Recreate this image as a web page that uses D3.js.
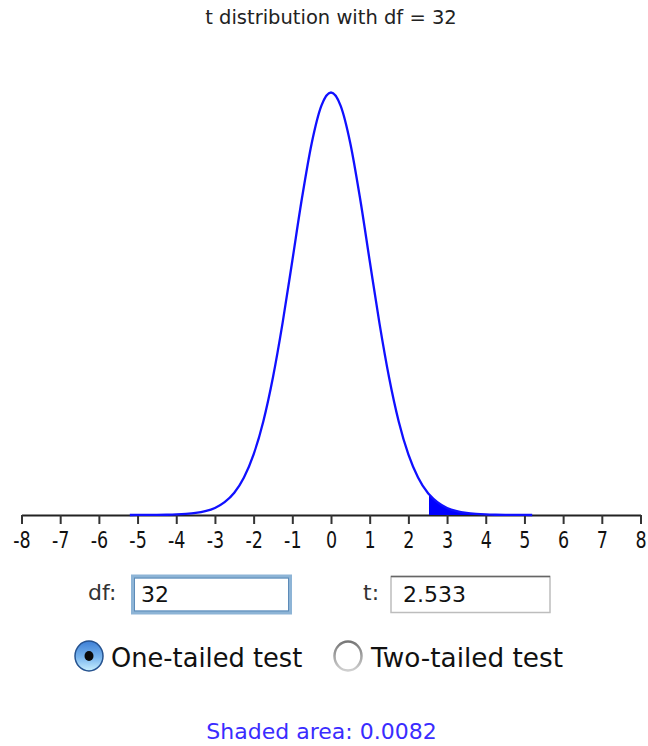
<!DOCTYPE html>
<html>
<head>
<meta charset="utf-8">
<script src="https://cdn.jsdelivr.net/npm/d3@7"></script>
<style>
  html, body { margin: 0; padding: 0; background: #fff; }
  svg { display: block; }
  text { font-family: "DejaVu Sans", "Lucida Grande", sans-serif; }
</style>
</head>
<body>
<svg id="chart" width="648" height="746"></svg>
<script>
// ---- data ----
const title = "t distribution with df = 32";
const dfValue = "32";
const tValue = "2.533";
const criticalT = 2.533;
const shadedArea = "0.0082";
const tickValues = [-8, -7, -6, -5, -4, -3, -2, -1, 0, 1, 2, 3, 4, 5, 6, 7, 8];
const tickLabels = ["-8", "-7", "-6", "-5", "-4", "-3", "-2", "-1", "0", "1", "2", "3", "4", "5", "6", "7", "8"];
const tPoints = [-5.2, -5, -4.75, -4.5, -4.25, -4, -3.75, -3.5, -3.25, -3, -2.75, -2.5, -2.25, -2, -1.75, -1.5, -1.25, -1, -0.75, -0.5, -0.25,
                 0, 0.25, 0.5, 0.75, 1, 1.25, 1.5, 1.75, 2, 2.25, 2.5, 2.533, 2.75, 3, 3.25, 3.5, 3.75, 4, 4.25, 4.5, 4.75, 5, 5.2];
const densities = [0.00002, 0.00003, 0.00006, 0.00012, 0.00025, 0.0005, 0.0010, 0.0019, 0.0036, 0.0066, 0.0120, 0.0208, 0.0351, 0.0567, 0.0876, 0.1290, 0.1802, 0.2382, 0.2969, 0.3481, 0.3833,
                   0.3958, 0.3833, 0.3481, 0.2969, 0.2382, 0.1802, 0.1290, 0.0876, 0.0567, 0.0351, 0.0208, 0.0194, 0.0120, 0.0066, 0.0036, 0.0019, 0.0010, 0.0005, 0.00025, 0.00012, 0.00006, 0.00003, 0.00002];
const radioLabels = ["One-tailed test", "Two-tailed test"];

// ---- drawing ----
const svg = d3.select("#chart");
const data = tPoints.map((t, i) => ({ t, d: densities[i] }));

const x = d3.scaleLinear().domain([-8, 8]).range([21.5, 640.5]);
const y = d3.scaleLinear().domain([0, 0.4]).range([515, 88]);

// title
svg.append("text")
  .attr("x", 331).attr("y", 24)
  .attr("text-anchor", "middle")
  .attr("font-size", 19.5)
  .attr("fill", "#222")
  .text(title);

// axis
const axis = d3.axisBottom(x)
  .tickValues(tickValues)
  .tickFormat((d, i) => tickLabels[i])
  .tickSize(9)
  .tickSizeOuter(0);
const gAxis = svg.append("g").attr("transform", "translate(0,515)").call(axis);
gAxis.select(".domain").attr("stroke", "#222").attr("stroke-width", 2);
gAxis.selectAll(".tick line").attr("stroke", "#333").attr("stroke-width", 2);
const sy = 1.27;
gAxis.selectAll(".tick text")
  .attr("font-family", "DejaVu Sans, sans-serif")
  .attr("font-size", 17.5)
  .attr("fill", "#111")
  .attr("dy", null)
  .attr("y", 33 / sy)
  .attr("transform", `scale(1,${sy})`);

// shaded tail
const shade = data.filter(p => p.t >= criticalT);
svg.append("path")
  .datum(shade)
  .attr("fill", "#0000ff")
  .attr("d", d3.area().x(p => x(p.t)).y0(y(0)).y1(p => y(p.d)).curve(d3.curveMonotoneX));

// density curve
svg.append("path")
  .datum(data)
  .attr("fill", "none")
  .attr("stroke", "#1010ff")
  .attr("stroke-width", 2.3)
  .attr("stroke-linejoin", "round")
  .attr("d", d3.line().x(p => x(p.t)).y(p => y(p.d)).curve(d3.curveMonotoneX));

// input fields
svg.append("text").attr("x", 88).attr("y", 600).attr("font-size", 22).attr("fill", "#333").text("df:");
svg.append("rect").attr("x", 133).attr("y", 576.5).attr("width", 157).attr("height", 36)
  .attr("fill", "#fff").attr("stroke", "#8db4d6").attr("stroke-width", 4);
svg.append("rect").attr("x", 134.5).attr("y", 578).attr("width", 154).attr("height", 33)
  .attr("fill", "none").attr("stroke", "#5d8bb8").attr("stroke-width", 1);
svg.append("text").attr("x", 141).attr("y", 602).attr("font-size", 22).attr("fill", "#111").text(dfValue);

svg.append("text").attr("x", 363).attr("y", 600).attr("font-size", 22).attr("fill", "#333").text("t:");
svg.append("rect").attr("x", 391).attr("y", 576.5).attr("width", 159).attr("height", 36)
  .attr("fill", "#fff").attr("stroke", "#bdbdbd").attr("stroke-width", 1.5);
svg.append("line").attr("x1", 391).attr("x2", 550).attr("y1", 576.5).attr("y2", 576.5)
  .attr("stroke", "#666").attr("stroke-width", 1.5);
svg.append("text").attr("x", 403).attr("y", 602).attr("font-size", 22).attr("fill", "#111").text(tValue);

// radio buttons
const defs = svg.append("defs");
const gBlue = defs.append("linearGradient").attr("id", "gBlue").attr("x1", 0).attr("y1", 0).attr("x2", 0).attr("y2", 1);
gBlue.append("stop").attr("offset", "0%").attr("stop-color", "#3d7fd6");
gBlue.append("stop").attr("offset", "55%").attr("stop-color", "#7ab6ee");
gBlue.append("stop").attr("offset", "100%").attr("stop-color", "#c9f0ff");
const gGray = defs.append("linearGradient").attr("id", "gGray").attr("x1", 0).attr("y1", 0).attr("x2", 0).attr("y2", 1);
gGray.append("stop").attr("offset", "0%").attr("stop-color", "#777");
gGray.append("stop").attr("offset", "100%").attr("stop-color", "#cfcfcf");

svg.append("ellipse").attr("cx", 89).attr("cy", 656).attr("rx", 14).attr("ry", 15)
  .attr("fill", "url(#gBlue)").attr("stroke", "#25528f").attr("stroke-width", 1.5);
svg.append("ellipse").attr("cx", 89).attr("cy", 656).attr("rx", 4.5).attr("ry", 5)
  .attr("fill", "#0a0a0a");
svg.append("text").attr("x", 111).attr("y", 667).attr("font-size", 25.7).attr("fill", "#111").text(radioLabels[0]);

svg.append("ellipse").attr("cx", 348).attr("cy", 656).attr("rx", 13.5).attr("ry", 14.5)
  .attr("fill", "#fff").attr("stroke", "url(#gGray)").attr("stroke-width", 2.5);
svg.append("text").attr("x", 371).attr("y", 667).attr("font-size", 26.3).attr("fill", "#111").text(radioLabels[1]);

// shaded area readout
svg.append("text")
  .attr("x", 321.5).attr("y", 739)
  .attr("text-anchor", "middle")
  .attr("font-size", 22)
  .attr("fill", "#3a2cff")
  .text("Shaded area: " + shadedArea);
</script>
</body>
</html>
